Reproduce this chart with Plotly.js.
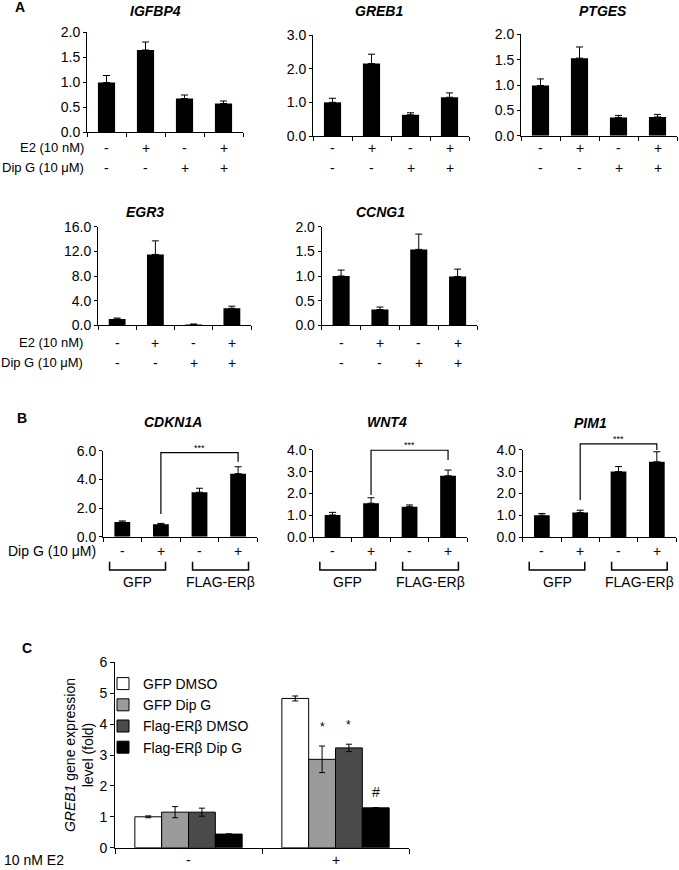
<!DOCTYPE html>
<html><head><meta charset="utf-8">
<script src="https://cdn.plot.ly/plotly-3.0.1.min.js"></script>
<style>html,body{margin:0;padding:0;background:#fff}</style>
</head><body><div id="chart" style="width:679px;height:870px"></div>
<script>
// ---------- DATA ----------
// Panel A conditions (E2 / Dip G)
const condA = ['Vehicle', 'E2', 'Dip G', 'E2 + Dip G'];
const e2Signs = ['-', '+', '-', '+'];
const dipSignsA = ['-', '-', '+', '+'];
const igfbp4 = [0.99, 1.64, 0.67, 0.57];
const igfbp4Err = [0.14, 0.16, 0.07, 0.05];
const greb1 = [1.00, 2.15, 0.63, 1.15];
const greb1Err = [0.12, 0.28, 0.06, 0.13];
const ptges = [0.99, 1.53, 0.36, 0.37];
const ptgesErr = [0.13, 0.22, 0.04, 0.05];
const egr3 = [1.02, 11.5, 0.15, 2.75];
const egr3Err = [0.15, 2.2, 0.05, 0.35];
const ccng1 = [1.00, 0.32, 1.54, 0.99];
const ccng1Err = [0.12, 0.05, 0.31, 0.15];
// Panel B conditions (GFP / FLAG-ERβ, Dip G)
const condB = ['GFP DMSO', 'GFP Dip G', 'FLAG-ERβ DMSO', 'FLAG-ERβ Dip G'];
const dipSignsB = ['-', '+', '-', '+'];
const groupsB = ['GFP', 'FLAG-ERβ'];
const cdkn1a = [1.02, 0.86, 3.10, 4.40];
const cdkn1aErr = [0.08, 0.07, 0.28, 0.48];
const wnt4 = [1.01, 1.55, 1.39, 2.81];
const wnt4Err = [0.12, 0.25, 0.08, 0.26];
const pim1 = [1.00, 1.12, 3.00, 3.45];
const pim1Err = [0.08, 0.11, 0.23, 0.46];
// significance brackets in B: [bracket level, left leg end, right leg end]
const sigCdkn1a = [5.86, 1.58, 5.23];
const sigWnt4 = [3.98, 1.93, 3.53];
const sigPim1 = [4.27, 1.70, 3.99];
// Panel C
const e2C = ['-', '+'];
const cSeries = ['GFP DMSO', 'GFP Dip G', 'Flag-ERβ DMSO', 'Flag-ERβ Dip G'];
const gfpDmso = [1.00, 4.83];
const gfpDmsoErr = [0.03, 0.08];
const gfpDipG = [1.15, 2.86];
const gfpDipGErr = [0.18, 0.43];
const flagDmso = [1.15, 3.23];
const flagDmsoErr = [0.13, 0.12];
const flagDipG = [0.44, 1.29];
const flagDipGErr = [0.01, 0.01];
const cMarks = [['', ''], ['', '*'], ['', '*'], ['', '#']];

// ---------- LAYOUT HELPERS ----------
const W = 679, H = 870;
const FONT = 'Arial, "Liberation Sans", sans-serif';
const FS = 14;
const fx = p => p / W;
const fy = p => 1 - p / H;

const traces = [];
const layout = {
  width: W, height: H,
  margin: {l: 0, r: 0, t: 0, b: 0},
  paper_bgcolor: '#fff', plot_bgcolor: 'rgba(0,0,0,0)',
  font: {family: FONT, size: FS, color: '#000'},
  barmode: 'group', bargap: 0.27, bargroupgap: 0,
  showlegend: true,
  legend: {x: fx(103), y: fy(668), xanchor: 'left', yanchor: 'top',
           font: {family: FONT, size: 14, color: '#000'}, bgcolor: 'rgba(0,0,0,0)',
           traceorder: 'normal', itemwidth: 30},
  annotations: [], shapes: []
};

function addText(text, x, y, opts) {
  layout.annotations.push(Object.assign({text, x, y, xref: 'paper', yref: 'paper',
    showarrow: false, xanchor: 'center', yanchor: 'middle',
    font: {family: FONT, size: FS, color: '#000'}}, opts || {}));
}

const panels = [
  {n: 1, cond: condA, vals: igfbp4, err: igfbp4Err, gene: 'IGFBP4', xp: [87, 243], yp: [32, 132], range: [0, 2], dtick: 0.5, tpos: [155, 11], w: 0.44},
  {n: 2, cond: condA, vals: greb1, err: greb1Err, gene: 'GREB1', xp: [313, 469], yp: [35, 136], range: [0, 3], dtick: 1, tpos: [379, 11], w: 0.44},
  {n: 3, cond: condA, vals: ptges, err: ptgesErr, gene: 'PTGES', xp: [521, 677], yp: [34.3, 135.7], range: [0, 2], dtick: 0.5, tpos: [603, 11], w: 0.44},
  {n: 4, cond: condA, vals: egr3, err: egr3Err, gene: 'EGR3', xp: [98, 251], yp: [226.7, 325.3], range: [0, 16], dtick: 4, tpos: [145, 212], w: 0.44},
  {n: 5, cond: condA, vals: ccng1, err: ccng1Err, gene: 'CCNG1', xp: [321.7, 477], yp: [226.7, 325.3], range: [0, 2], dtick: 0.5, tpos: [380, 212], w: 0.44},
  {n: 6, cond: condB, vals: cdkn1a, err: cdkn1aErr, gene: 'CDKN1A', xp: [103, 257.4], yp: [450.7, 536.7], range: [0, 6], dtick: 2, tpos: [173, 422], w: 0.41, sig: sigCdkn1a},
  {n: 7, cond: condB, vals: wnt4, err: wnt4Err, gene: 'WNT4', xp: [313.3, 467.3], yp: [449.8, 537], range: [0, 4], dtick: 1, tpos: [387, 422], w: 0.41, sig: sigWnt4},
  {n: 8, cond: condB, vals: pim1, err: pim1Err, gene: 'PIM1', xp: [522.7, 676], yp: [449.8, 537], range: [0, 4], dtick: 1, tpos: [590, 423], w: 0.41, sig: sigPim1}
];

panels.forEach(p => {
  const xa = 'xaxis' + p.n, ya = 'yaxis' + p.n;
  const xr = 'x' + p.n, yr = 'y' + p.n;
  const xs = p.cond.map((_, i) => i);
  traces.push({
    type: 'bar', x: xs, y: p.vals, name: p.gene, xaxis: xr, yaxis: yr,
    width: p.w, marker: {color: '#000', line: {width: 0}},
    error_y: {type: 'data', symmetric: false, array: p.err, arrayminus: p.err.map(() => 0),
              color: '#000', thickness: 1, width: 3.5},
    showlegend: false, hoverinfo: 'skip'
  });
  layout[xa] = {domain: [fx(p.xp[0]), fx(p.xp[1])], anchor: yr, range: [-0.5, p.cond.length - 0.5],
    showline: true, linecolor: '#000', linewidth: 1, showgrid: false, zeroline: false,
    tickmode: 'array', tickvals: xs.concat([xs.length]).map(v => v - 0.5), ticks: 'outside', ticklen: 4,
    tickcolor: '#000', showticklabels: false, fixedrange: true};
  layout[ya] = {domain: [fy(p.yp[1]), fy(p.yp[0])], anchor: xr, range: p.range,
    showline: true, linecolor: '#000', linewidth: 1, showgrid: false, zeroline: false,
    dtick: p.dtick, tick0: 0, tickformat: '.1f', ticks: 'outside', ticklen: 3, tickcolor: '#000',
    tickfont: {family: FONT, size: FS, color: '#000'}, fixedrange: true};
  addText('<b><i>' + p.gene + '</i></b>', fx(p.tpos[0]), fy(p.tpos[1]), {font: {family: FONT, size: 14, color: '#000'}});

  if (p.n <= 5) {
    const rowY = p.n <= 3 ? [148, 168] : [342.7, 362.7];
    xs.forEach(i => {
      addText(e2Signs[i], i, fy(rowY[0]), {xref: xr});
      addText(dipSignsA[i], i, fy(rowY[1]), {xref: xr});
    });
  } else {
    xs.forEach(i => addText(dipSignsB[i], i, fy(550.7), {xref: xr}));
    // group brackets
    const spans = [[-0.33, 1.12], [1.82, 3.27]];
    spans.forEach((s, gi) => {
      layout.shapes.push({type: 'path', xref: xr, yref: 'paper',
        path: `M${s[0]},${fy(561.7)} L${s[0]},${fy(570)} L${s[1]},${fy(570)} L${s[1]},${fy(561.7)}`,
        line: {color: '#000', width: 1.5}});
      addText(groupsB[gi], (s[0] + s[1]) / 2, fy(582), {xref: xr});
    });
    // significance bracket between GFP Dip G and FLAG-ERβ Dip G (in y-domain units so it is not clipped)
    const dref = yr + ' domain';
    const frac = v => (v - p.range[0]) / (p.range[1] - p.range[0]);
    layout.shapes.push({type: 'path', xref: xr, yref: dref,
      path: `M1,${frac(p.sig[1])} L1,${frac(p.sig[0])} L3,${frac(p.sig[0])} L3,${frac(p.sig[2])}`,
      line: {color: '#000', width: 1.2}});
    addText('***', 2, frac(p.sig[0]), {xref: xr, yref: dref, yanchor: 'bottom', yshift: -2,
      font: {family: FONT, size: 9, color: '#000'}});
  }
});

// row labels
const rowFont = {family: FONT, size: 13, color: '#000'};
addText('E2 (10 nM)', fx(86), fy(148), {xanchor: 'right', font: rowFont});
addText('Dip G (10 μM)', fx(86), fy(168), {xanchor: 'right', font: rowFont});
addText('E2 (10 nM)', fx(85), fy(342.7), {xanchor: 'right', font: rowFont});
addText('Dip G (10 μM)', fx(85), fy(362.7), {xanchor: 'right', font: rowFont});
addText('Dip G (10 μM)', fx(98), fy(550.7), {xanchor: 'right'});
// panel letters
addText('<b>A</b>', fx(20), fy(7), {font: {family: FONT, size: 14, color: '#000'}});
addText('<b>B</b>', fx(22), fy(418), {font: {family: FONT, size: 14, color: '#000'}});
addText('<b>C</b>', fx(27), fy(648), {font: {family: FONT, size: 14, color: '#000'}});

// ---------- PANEL C ----------
const cVals = [gfpDmso, gfpDipG, flagDmso, flagDipG];
const cErrs = [gfpDmsoErr, gfpDipGErr, flagDmsoErr, flagDipGErr];
const cColors = ['#ffffff', '#9b9b9b', '#4a4a4a', '#000000'];
const cx = e2C.map((_, i) => i);
cVals.forEach((v, k) => {
  traces.push({type: 'bar', x: cx, y: v, name: cSeries[k], xaxis: 'x9', yaxis: 'y9',
    marker: {color: cColors[k], line: {color: '#000', width: 1}},
    error_y: {type: 'data', array: cErrs[k], color: '#000', thickness: 1, width: 3},
    showlegend: true, hoverinfo: 'skip'});
});
layout.xaxis9 = {domain: [fx(115), fx(409)], anchor: 'y9', range: [-0.5, 1.5],
  showline: true, linecolor: '#000', linewidth: 1, showgrid: false, zeroline: false,
  tickmode: 'array', tickvals: [-0.5, 0.5, 1.5], ticks: 'outside', ticklen: 5, tickcolor: '#000',
  showticklabels: false, fixedrange: true};
layout.yaxis9 = {domain: [fy(847.7), fy(662.3)], anchor: 'x9', range: [0, 6],
  showline: true, linecolor: '#000', linewidth: 1, showgrid: false, zeroline: false,
  dtick: 1, ticks: 'outside', ticklen: 4, tickcolor: '#000',
  tickfont: {family: FONT, size: 14, color: '#000'},
  title: {text: '<i>GREB1</i> gene expression<br>level (fold)', font: {family: FONT, size: 14, color: '#000'}, standoff: 2},
  fixedrange: true};
const gw = (1 - layout.bargap) / cSeries.length;
cMarks.forEach((m, k) => m.forEach((t, i) => {
  if (!t) return;
  addText(t, i + (k - (cSeries.length - 1) / 2) * gw, cVals[k][i] + cErrs[k][i], {
    xref: 'x9', yref: 'y9', yanchor: 'bottom', yshift: t === '#' ? 6 : 10,
    font: {family: FONT, size: t === '#' ? 14 : 12, color: '#000'}});
}));
cx.forEach(i => addText(e2C[i], i, fy(860), {xref: 'x9', font: {family: FONT, size: 14, color: '#000'}}));
addText('10 nM E2', fx(2), fy(860), {xanchor: 'left', font: {family: FONT, size: 14, color: '#000'}});

Plotly.newPlot('chart', traces, layout, {staticPlot: true, displayModeBar: false});
</script></body></html>
